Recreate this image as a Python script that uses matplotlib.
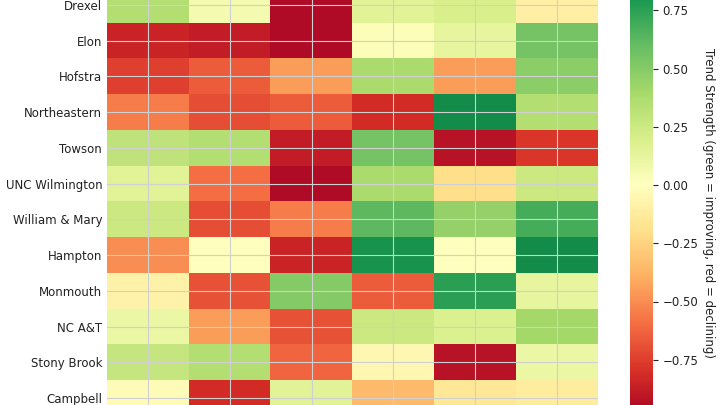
import numpy as np
import matplotlib
matplotlib.use("Agg")
import matplotlib.pyplot as plt

teams = ["Drexel", "Elon", "Hofstra", "Northeastern", "Towson", "UNC Wilmington",
         "William & Mary", "Hampton", "Monmouth", "NC A&T", "Stony Brook", "Campbell"]
# trend strength per team (6 metrics, column labels cropped in reference)
drexel = [0.35, 0.05, -0.95, 0.15, 0.20, -0.10]
elon = [-0.85, -0.88, -0.95, 0.02, 0.12, 0.55]
hofstra = [-0.75, -0.65, -0.45, 0.38, -0.45, 0.48]
northeastern = [-0.55, -0.70, -0.65, -0.82, 0.85, 0.35]
towson = [0.30, 0.35, -0.88, 0.55, -0.92, -0.78]
uncw = [0.15, -0.60, -0.95, 0.38, -0.20, 0.25]
wm = [0.25, -0.70, -0.55, 0.62, 0.45, 0.68]
hampton = [-0.50, 0.00, -0.85, 0.82, 0.00, 0.85]
monmouth = [-0.08, -0.68, 0.50, -0.65, 0.75, 0.12]
ncat = [0.10, -0.45, -0.68, 0.25, 0.18, 0.40]
stony = [0.28, 0.35, -0.62, -0.05, -0.92, 0.10]
campbell = [-0.02, -0.82, 0.15, -0.35, -0.15, -0.12]

data = np.array([drexel, elon, hofstra, northeastern, towson, uncw, wm,
                 hampton, monmouth, ncat, stony, campbell])

W, H = 720, 405
fig = plt.figure(figsize=(7.2, 4.05), dpi=100)
ax = fig.add_axes([107 / W, (H - 416) / H, (598 - 107) / W, 429 / H])
im = ax.imshow(data, cmap="RdYlGn", vmin=-1, vmax=1, aspect="auto")
ax.set_yticks(range(len(teams)))
ax.set_yticklabels(teams, fontsize=8.5, color="#222222")
ax.set_xticks(range(data.shape[1]))
ax.set_xticklabels([])
ax.tick_params(length=0)
ax.set_axisbelow(False)
ax.grid(True, color="#d0d0d0", linewidth=0.8)
for s in ax.spines.values():
    s.set_visible(False)

cax = fig.add_axes([630 / W, (H - 418) / H, 23 / W, 466 / H])
cb = fig.colorbar(im, cax=cax)
cb.set_ticks([-0.75, -0.5, -0.25, 0, 0.25, 0.5, 0.75])
cb.ax.tick_params(labelsize=8.5, colors="#222222")
cb.outline.set_visible(False)
fig.text(708 / W, 0.5, "Trend Strength (green = improving, red = declining)",
         rotation=270, va="center", ha="center", fontsize=8.5, color="#222222")

fig.savefig("out.png", dpi=100)
